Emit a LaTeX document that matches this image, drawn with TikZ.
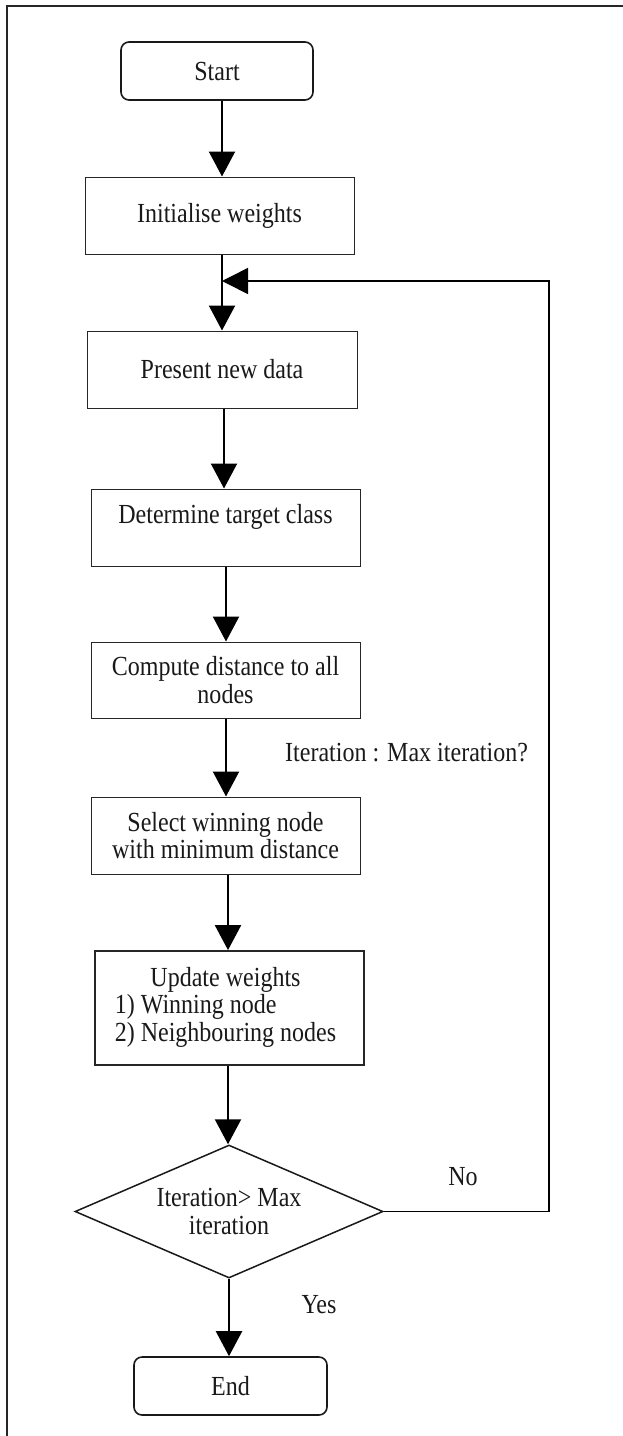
\documentclass[tikz,border=0pt]{standalone}
\usepackage{fontspec}
\setmainfont{Liberation Serif}[FakeStretch=0.87]
\usetikzlibrary{arrows.meta,shapes.geometric}
\begin{document}
\begin{tikzpicture}[x=1pt,y=-1pt,
  every node/.style={font=\fontsize{27.6}{27.5}\selectfont, text=black!90},
  box/.style={draw=black!85, line width=1pt, minimum width=269pt, minimum height=77pt, inner sep=2pt, align=center},
  term/.style={draw=black!90, line width=1.6pt, rounded corners=8pt, minimum width=192pt, minimum height=58pt},
  decision/.style={draw=black!90, line width=1.5pt, diamond, aspect=2.316, minimum width=308pt, minimum height=133pt, inner sep=0pt, align=center},
  arr/.style={line width=2.2pt, -{Triangle[length=25pt,width=26pt]}},
  loopline/.style={line width=1.6pt},
  lbl/.style={inner sep=0pt}]
\useasboundingbox (0,0) rectangle (623,1436);
% partial frame
\draw[line width=2.5pt, black!85] (7,1436) -- (7,6) -- (623,6);

\node[term] (start) at (217,71) {Start};
\node[box] (init) at (219.5,215.5) {Initialise weights};
\node[box, minimum width=270pt] (pres) at (222,369.5) {Present new data};
\node[box, text depth=27pt] (det) at (225.5,527.5) {Determine target class};
\node[box, minimum height=76pt] (comp) at (225.5,680) {Compute distance to all\\nodes};
\node[box] (sel) at (225.5,835.5) {Select winning node\\with minimum distance};
\node[box, line width=1.8pt, minimum height=114pt] (upd) at (229.5,1008)
  {\begin{tabular}{@{}l@{}}\multicolumn{1}{@{}c@{}}{Update weights}\\1)~Winning node\\2)~Neighbouring nodes\end{tabular}\hspace*{8pt}};
\node[decision] (dec) at (229,1211.5) {Iteration> Max\\iteration};
\node[term, minimum width=193pt] (end) at (230.5,1386) {End};

\coordinate (join) at (222,281);
\coordinate (rc) at (549,1211.5);

\draw[arr] (start.south -| 222,0) -- (init.north -| 222,0);
\draw[arr] (init.south -| join) -- (pres.north -| join);
\draw[loopline, -{Triangle[length=26pt,width=26pt]}] (dec.east) -- (rc) -- (rc |- join) -- (join);
\draw[arr] (pres.south -| 224,0) -- (det.north -| 224,0);
\draw[arr] (det.south -| 226,0) -- (comp.north -| 226,0);
\draw[arr] (comp.south -| 226,0) -- (sel.north -| 226,0);
\draw[arr] (sel.south -| 228,0) -- (upd.north -| 228,0);
\draw[arr] (upd.south -| 228,0) -- (dec.north -| 228,0);
\draw[arr] (dec.south) -- (end.north -| dec.south);

\node[lbl, anchor=west] (itlbl) at (285,753) {Iteration : Max iteration?};
\node[lbl] (no) at (463,1177) {No};
\node[lbl] (yes) at (319,1305) {Yes};
\end{tikzpicture}
\end{document}
